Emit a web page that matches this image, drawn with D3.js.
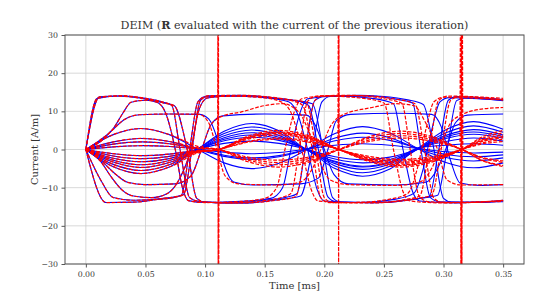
<!DOCTYPE html>
<html>
<head>
<meta charset="utf-8">
<script src="https://cdn.jsdelivr.net/npm/d3@7"></script>
<style>
  body { margin: 0; background: #fff; }
  svg { display: block; }
</style>
</head>
<body>
<div id="chart"></div>
<script>
// tick values
var xTicks = [0, 0.05, 0.10, 0.15, 0.20, 0.25, 0.30, 0.35];
var yTicks = [-30, -20, -10, 0, 10, 20, 30];

// knot times of the sine-like curves (full model and DEIM)
var blueSineTimes = [0, 0.023, 0.046, 0.07, 0.093, 0.116, 0.139, 0.162, 0.185, 0.209, 0.232, 0.255, 0.278, 0.302, 0.325, 0.35];
var redSineTimes  = [0, 0.023, 0.046, 0.07, 0.093, 0.1113, 0.136, 0.161, 0.187, 0.2123, 0.238, 0.264, 0.29, 0.3152, 0.333, 0.35];

// full model, sine-like currents
var blueSine1  = [0, 3.9, 5.5, 3.9, 0.2, -3.5, -5.0, -3.6, -0.1, 4.2, 6.0, 4.3, 0.3, -3.4, -4.8, -3.5];
var blueSine2  = [0, 2.0, 2.9, 2.1, 0.1, -1.8, -2.6, -1.9, 0, 3.0, 4.3, 3.1, 0.2, -2.1, -3.0, -2.2];
var blueSine3  = [0, 1.4, 2.0, 1.5, 0.2, -1.5, -2.2, -1.6, 0.1, 2.3, 3.2, 2.4, 0.4, -1.3, -1.9, -1.4];
var blueSine4  = [0, 0.7, 1.0, 0.8, 0.2, -0.7, -1.1, -0.8, 0.1, 1.1, 1.5, 1.1, 0.3, -0.6, -0.9, -0.7];
var blueSine5  = [0, -1.1, -1.6, -1.2, -0.1, 2.7, 3.8, 2.8, 0.1, -1.9, -2.7, -2.0, 0, 2.9, 4.0, 3.0];
var blueSine6  = [0, -1.7, -2.4, -1.8, 0, 3.6, 5.1, 3.7, 0, -2.5, -3.5, -2.6, 0.2, 3.7, 5.2, 3.8];
var blueSine7  = [0, -2.3, -3.2, -2.4, 0.1, 4.2, 5.9, 4.3, -0.1, -3.1, -4.4, -3.2, 0.1, 4.4, 6.2, 4.5];
var blueSine8  = [0, -2.8, -4.0, -2.9, 0, 4.8, 6.8, 4.9, 0, -3.7, -5.2, -3.8, 0.2, 5.2, 7.3, 5.3];
var blueSine9  = [0, -3.3, -4.7, -3.4, -0.2, 3.1, 4.4, 3.2, 0.1, -4.3, -6.1, -4.4, 0, 3.3, 4.6, 3.4];
var blueSine10 = [0, -3.9, -5.5, -4.0, -0.1, 2.3, 3.2, 2.4, 0, -5.0, -7.0, -5.1, 0.1, 2.1, 3.0, 2.2];
var blueSine11 = [0, -4.5, -6.3, -4.6, -0.2, 1.6, 2.2, 1.6, 0, -3.3, -4.6, -3.4, 0.3, 1.1, 1.5, 1.1];

// DEIM, sine-like currents
var redSine1  = [0, 3.9, 5.5, 3.9, 0.9, 0, -3.2, -4.6, -3.3, 0, 3.4, 4.8, 3.4, 0, -2.9, -4.2];
var redSine2  = [0, 2.0, 2.9, 2.1, 0.5, 0, -2.0, -2.8, -2.0, 0, 2.5, 3.6, 2.6, 0, -2.1, -3.0];
var redSine3  = [0, 1.4, 2.0, 1.5, 0.4, 0, -2.4, -3.4, -2.4, 0, 3.0, 4.2, 3.0, 0, -2.3, -3.4];
var redSine4  = [0, 0.7, 1.0, 0.8, 0.2, 0, -2.8, -4.0, -2.9, 0, 2.1, 3.0, 2.2, 0, -3.0, -4.5];
var redSine5  = [0, -1.1, -1.6, -1.2, -0.3, 0, 2.7, 3.8, 2.7, 0, -2.1, -3.0, -2.2, 0, 2.2, 3.1];
var redSine6  = [0, -1.7, -2.4, -1.8, -0.4, 0, 3.0, 4.2, 3.0, 0, -2.5, -3.6, -2.6, 0, 2.6, 3.8];
var redSine7  = [0, -2.3, -3.2, -2.4, -0.5, 0, 3.2, 4.6, 3.3, 0, -2.9, -4.2, -3.0, 0, 3.0, 4.4];
var redSine8  = [0, -2.8, -4.0, -2.9, -0.6, 0, 3.5, 5.0, 3.6, 0, -3.2, -4.6, -3.3, 0, 3.4, 5.0];
var redSine9  = [0, -3.3, -4.7, -3.4, -0.7, 0, 3.1, 4.4, 3.1, 0, -1.8, -2.6, -1.9, 0, 2.4, 3.4];
var redSine10 = [0, -3.9, -5.5, -4.0, -0.8, 0, 2.1, 3.0, 2.2, 0, -2.8, -4.0, -2.9, 0, 1.8, 2.7];
var redSine11 = [0, -4.5, -6.3, -4.6, -1.0, 0, 1.9, 2.7, 1.9, 0, -2.3, -3.3, -2.4, 0, 1.5, 2.1];

// full model, saturating currents as [time, current] knots
var blueSat1 = [[0,0],[0.0095,13.4],[0.03,14.1],[0.05,13.4],[0.065,12.4],[0.072,11.6],[0.079,0],[0.087,-12.6],[0.095,-13.6],[0.12,-14],[0.15,-13.3],[0.17,-12.4],[0.177,-11.6],[0.184,0],[0.192,12.8],[0.2,13.9],[0.23,14.2],[0.26,13.2],[0.274,12.2],[0.281,0],[0.289,-12.6],[0.297,-13.7],[0.33,-13.9],[0.35,-13.4]];
var blueSat2 = [[0,0],[0.0115,13.8],[0.025,14],[0.045,13.5],[0.065,12.2],[0.074,11.5],[0.085,0],[0.093,-12.8],[0.1,-13.8],[0.13,-14.1],[0.16,-13.2],[0.18,-12.2],[0.19,0],[0.198,12.5],[0.205,13.9],[0.24,14],[0.27,13],[0.283,11.8],[0.292,0],[0.3,-12.8],[0.307,-13.8],[0.35,-13.7]];
var blueSat3 = [[0,0],[0.017,-13.9],[0.04,-13.8],[0.06,-13.1],[0.075,-12.5],[0.082,-11.8],[0.089,0],[0.096,12.8],[0.103,14.1],[0.13,14.2],[0.16,13.4],[0.18,12.5],[0.187,11.5],[0.195,0],[0.203,-12.4],[0.21,-13.7],[0.24,-14],[0.27,-13.2],[0.288,-12.3],[0.296,0],[0.304,12.9],[0.311,13.9],[0.33,13.6],[0.35,13.1]];
var blueSat4 = [[0,0],[0.013,-8.3],[0.023,-12.6],[0.04,-13.3],[0.065,-12.8],[0.08,-12],[0.087,0],[0.094,12.5],[0.1,13.8],[0.14,14],[0.17,13],[0.19,12],[0.199,0],[0.207,-12.6],[0.214,-13.8],[0.25,-13.9],[0.28,-12.8],[0.295,-12],[0.303,0],[0.311,12.8],[0.318,13.5],[0.35,12.8]];
var blueSat5 = [[0,0],[0.012,2.5],[0.023,5.5],[0.031,9.5],[0.038,12.4],[0.05,12.9],[0.06,12.3],[0.067,9.5],[0.075,0],[0.081,-10],[0.086,-13.4],[0.1,-13.9],[0.13,-13.6],[0.155,-12.8],[0.165,-10],[0.172,0],[0.18,10],[0.186,13.3],[0.21,14],[0.24,13.4],[0.258,12],[0.266,0],[0.274,-11],[0.28,-13.5],[0.31,-14],[0.35,-13.3]];
var blueSat6 = [[0,0],[0.012,-3],[0.022,-7.5],[0.03,-10.5],[0.04,-12.2],[0.055,-12.6],[0.068,-11.6],[0.078,-8],[0.088,0],[0.095,10.5],[0.102,13.5],[0.12,14],[0.15,13.6],[0.17,12.5],[0.178,9],[0.186,0],[0.194,-10.5],[0.2,-13.5],[0.23,-13.9],[0.26,-13],[0.275,-11.5],[0.283,-5],[0.29,5],[0.297,12.5],[0.305,13.6],[0.35,12.9]];
var blueMid1 = [[0,0],[0.012,2],[0.022,5],[0.032,7.8],[0.045,9.1],[0.07,9.3],[0.095,9.2],[0.103,8],[0.11,3],[0.116,-4],[0.124,-8.5],[0.14,-9.3],[0.18,-9],[0.195,-7.5],[0.203,0],[0.21,7.5],[0.222,9.2],[0.26,9.5],[0.29,9.2],[0.298,6],[0.306,-3],[0.314,-8.8],[0.33,-9.4],[0.35,-9.2]];
var blueMid2 = [[0,0],[0.013,-3],[0.025,-6.5],[0.035,-8.6],[0.05,-9.2],[0.075,-9],[0.088,-7],[0.097,0],[0.105,6.5],[0.115,8.8],[0.15,9.3],[0.185,9],[0.193,6],[0.2,0],[0.208,-6.5],[0.22,-9],[0.26,-9.3],[0.285,-8.6],[0.295,-5],[0.303,1],[0.31,7],[0.32,9],[0.35,9.3]];

// DEIM, saturating currents
var redSat1 = [[0,0],[0.0095,13.4],[0.03,14.1],[0.05,13.4],[0.065,12.4],[0.072,11.6],[0.079,0],[0.087,-12.6],[0.095,-13.6],[0.12,-14],[0.15,-13.4],[0.165,-12.5],[0.172,-11.5],[0.179,0],[0.186,12.6],[0.194,14],[0.22,14.2],[0.25,13.3],[0.265,12.1],[0.272,0],[0.28,-12.5],[0.288,-13.7],[0.32,-13.9],[0.35,-13.3]];
var redSat2 = [[0,0],[0.0115,13.8],[0.025,14],[0.045,13.5],[0.065,12.2],[0.074,11.5],[0.085,0],[0.093,-12.8],[0.1,-13.8],[0.13,-14],[0.16,-13.3],[0.176,-12.3],[0.184,0],[0.192,12.8],[0.198,14],[0.23,14.1],[0.26,13.2],[0.276,12],[0.284,0],[0.292,-12.8],[0.3,-13.9],[0.35,-13.6]];
var redSat3 = [[0,0],[0.017,-13.9],[0.04,-13.8],[0.06,-13.1],[0.075,-12.5],[0.082,-11.8],[0.089,0],[0.096,12.8],[0.103,14.1],[0.13,14.2],[0.16,13.4],[0.175,12.6],[0.182,11.5],[0.19,0],[0.197,-12.6],[0.204,-13.9],[0.24,-14],[0.27,-13],[0.28,-12.2],[0.288,0],[0.296,12.9],[0.304,14],[0.35,13.4]];
var redSat4 = [[0,0],[0.013,-8.3],[0.023,-12.6],[0.04,-13.3],[0.065,-12.8],[0.08,-12],[0.087,0],[0.094,12.5],[0.1,13.8],[0.14,14],[0.17,13.1],[0.185,12.3],[0.193,0],[0.2,-12.6],[0.207,-13.9],[0.25,-13.8],[0.28,-12.7],[0.29,-12],[0.298,0],[0.306,12.9],[0.313,13.8],[0.35,13]];
var redSat5 = [[0,0],[0.012,2.5],[0.023,5.5],[0.031,9.5],[0.038,12.4],[0.05,12.9],[0.06,12.3],[0.067,9.5],[0.075,0],[0.081,-10],[0.086,-13.4],[0.1,-13.9],[0.13,-13.6],[0.15,-12.8],[0.16,-10],[0.167,0],[0.175,10],[0.181,13.3],[0.2,14],[0.23,13.5],[0.25,12.2],[0.258,0],[0.266,-11],[0.272,-13.5],[0.3,-14],[0.35,-13.4]];
var redSat6 = [[0,0],[0.012,-3],[0.022,-7.5],[0.03,-10.5],[0.04,-12.2],[0.055,-12.6],[0.068,-11.6],[0.078,-8],[0.088,0],[0.095,10.5],[0.102,13.5],[0.12,14],[0.15,13.5],[0.165,12.3],[0.173,9],[0.181,0],[0.189,-10.5],[0.195,-13.5],[0.225,-13.9],[0.255,-13],[0.27,-11.5],[0.278,-5],[0.285,5],[0.292,12.5],[0.3,13.7],[0.35,13]];
var redMid1 = [[0,0],[0.012,2],[0.022,5],[0.032,7.8],[0.045,9.1],[0.07,9.3],[0.095,9.2],[0.103,7],[0.11,0],[0.117,-7],[0.128,-9],[0.16,-9.3],[0.18,-8.5],[0.19,-5],[0.197,0],[0.205,6],[0.215,9],[0.24,11],[0.26,12],[0.275,11.5],[0.285,7],[0.295,0],[0.303,-8],[0.315,-9.3],[0.35,-9.2]];
var redMid2 = [[0,0],[0.013,-3],[0.025,-6.5],[0.035,-8.6],[0.05,-9.2],[0.075,-9],[0.088,-7],[0.097,0],[0.105,6.5],[0.115,8.8],[0.13,9.8],[0.15,11.5],[0.165,12],[0.178,10],[0.188,4],[0.196,-3],[0.205,-8],[0.22,-9.2],[0.26,-9.4],[0.28,-8.5],[0.29,-5],[0.298,1],[0.306,7],[0.316,9.2],[0.33,10.5],[0.35,11]];

// DEIM blow-ups at the three reversals
var redSpike1 = [[0.1105,1],[0.1108,40],[0.1110,-40],[0.1112,40],[0.1114,-40],[0.1117,0]];
var redSpike2 = [[0.2114,0],[0.2118,40],[0.2120,-40],[0.2122,40],[0.2125,0]];
var redSpike3 = [[0.3138,2],[0.3142,40],[0.3146,-40],[0.3150,40],[0.3154,-40],[0.3158,40],[0.3162,0]];

var full_width = 560, full_height = 296;
var margin = {top: 35, right: 36, bottom: 32, left: 65};
var width = full_width - margin.left - margin.right;
var height = full_height - margin.top - margin.bottom;
var serif = "'DejaVu Serif', 'Liberation Serif', serif";

var svg = d3.select("#chart").append("svg")
    .attr("width", full_width)
    .attr("height", full_height);
var g = svg.append("g")
    .attr("transform", "translate(" + margin.left + "," + margin.top + ")");

var x = d3.scaleLinear().domain([-0.0175, 0.3675]).range([0, width]);
var y = d3.scaleLinear().domain([-30, 30]).range([height, 0]);

// grid
g.selectAll(".gx").data(xTicks).enter().append("line")
    .attr("x1", d => x(d)).attr("x2", d => x(d))
    .attr("y1", 0).attr("y2", height)
    .attr("stroke", "#cfcfcf").attr("stroke-width", 0.8);
g.selectAll(".gy").data(yTicks).enter().append("line")
    .attr("y1", d => y(d)).attr("y2", d => y(d))
    .attr("x1", 0).attr("x2", width)
    .attr("stroke", "#cfcfcf").attr("stroke-width", 0.8);

svg.append("clipPath").attr("id", "plotclip")
  .append("rect").attr("width", width).attr("height", height);
var plot = g.append("g").attr("clip-path", "url(#plotclip)");

var satLine = d3.line()
    .x(d => x(d[0])).y(d => y(d[1]))
    .curve(d3.curveMonotoneX);
var sineLine = d3.line()
    .x(d => x(d[0])).y(d => y(d[1]))
    .curve(d3.curveCatmullRom.alpha(0.5));
var rawLine = d3.line()
    .x(d => x(d[0])).y(d => y(d[1]));

function pairs(times, vals) {
  return times.map((t, i) => [t, vals[i]]);
}

var blueSats = [blueSat1, blueSat2, blueSat3, blueSat4, blueSat5, blueSat6, blueMid1, blueMid2];
var blueSines = [blueSine1, blueSine2, blueSine3, blueSine4, blueSine5, blueSine6, blueSine7, blueSine8, blueSine9, blueSine10, blueSine11];
var redSats = [redSat1, redSat2, redSat3, redSat4, redSat5, redSat6, redMid1, redMid2];
var redSines = [redSine1, redSine2, redSine3, redSine4, redSine5, redSine6, redSine7, redSine8, redSine9, redSine10, redSine11];
var redSpikes = [redSpike1, redSpike2, redSpike3];

function drawBlue(pathD) {
  plot.append("path").attr("d", pathD)
    .attr("fill", "none").attr("stroke", "#0000ff").attr("stroke-width", 1.1);
}
function drawRed(pathD) {
  plot.append("path").attr("d", pathD)
    .attr("fill", "none").attr("stroke", "#ff0000").attr("stroke-width", 1.2)
    .attr("stroke-dasharray", "3.7,1.6");
}

blueSats.forEach(d => drawBlue(satLine(d)));
blueSines.forEach(v => drawBlue(sineLine(pairs(blueSineTimes, v))));
redSats.forEach(d => drawRed(satLine(d)));
redSines.forEach(v => drawRed(sineLine(pairs(redSineTimes, v))));
redSpikes.forEach(d => drawRed(rawLine(d)));

// axes
var xAxis = g.append("g")
    .attr("transform", "translate(0," + height + ")")
    .call(d3.axisBottom(x).tickValues(xTicks).tickFormat(d3.format(".2f"))
            .tickSize(3.5).tickPadding(3.5).tickSizeOuter(0));
var yAxis = g.append("g")
    .call(d3.axisLeft(y).tickValues(yTicks).tickFormat(d3.format("d"))
            .tickSize(3.5).tickPadding(3.5).tickSizeOuter(0));
[xAxis, yAxis].forEach(a => {
  a.select(".domain").remove();
  a.selectAll("line").attr("stroke", "#444").attr("stroke-width", 0.9);
  a.selectAll("text").attr("fill", "#333")
    .style("font-family", serif).style("font-size", "7.8px");
});

// spines
g.append("rect")
    .attr("width", width).attr("height", height)
    .attr("fill", "none").attr("stroke", "#555").attr("stroke-width", 1);

// labels
svg.append("text")
    .attr("x", margin.left + width / 2).attr("y", 289)
    .attr("text-anchor", "middle")
    .style("font-family", serif).style("font-size", "10px").attr("fill", "#333")
    .text("Time [ms]");
svg.append("text")
    .attr("transform", "translate(37.5," + (margin.top + height / 2) + ") rotate(-90)")
    .attr("text-anchor", "middle")
    .style("font-family", serif).style("font-size", "10px").attr("fill", "#333")
    .text("Current [A/m]");

var title = svg.append("text")
    .attr("x", margin.left + width / 2).attr("y", 29.3)
    .attr("text-anchor", "middle")
    .style("font-family", serif).style("font-size", "11.1px").attr("fill", "#333");
title.append("tspan").text("DEIM (");
title.append("tspan").style("font-weight", "bold").text("R");
title.append("tspan").text(" evaluated with the current of the previous iteration)");
</script>
</body>
</html>
